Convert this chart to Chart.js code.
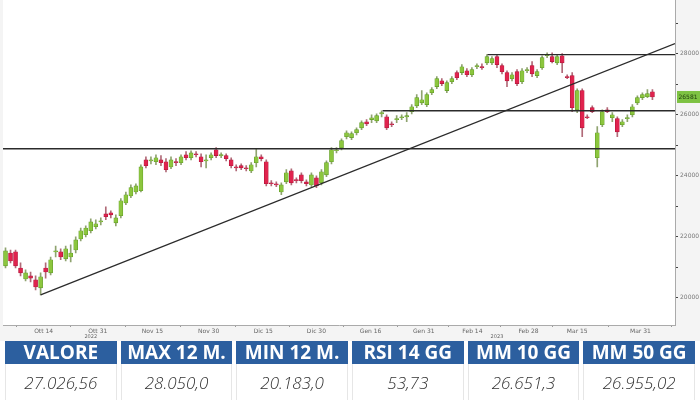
<!DOCTYPE html>
<html>
<head>
<meta charset="utf-8">
<script src="https://cdn.jsdelivr.net/npm/chart.js@4.4.0/dist/chart.umd.min.js"></script>
<style>
  html, body { margin:0; padding:0; background:#fff; }
  body { width:700px; height:400px; overflow:hidden; font-family:"Open Sans", Roboto, sans-serif; }
  #wrap { width:700px; height:341px; overflow:hidden; }
  #myChart { display:block; margin-top:-6px; }
  table { border-collapse:separate; border-spacing:4px 0; margin-left:1px; width:698px; table-layout:fixed; }
  th { background:#2c5f9f; color:#fff; font-weight:700; font-size:19px; height:23px; padding:0; line-height:23px; white-space:nowrap; }
  td { font-style:italic; font-weight:300; color:#333; font-size:17px; height:36px; padding:0; text-align:center;
       border-left:1px solid #e6e6e6; border-right:1px solid #e6e6e6; }
</style>
</head>
<body>
<div id="wrap"><canvas id="myChart" width="700" height="347"></canvas></div>
<table>
  <tr id="head"></tr>
  <tr id="vals"></tr>
</table>
<script>
// candles, one per trading day (index 0 = first candle on the left)
const opens  = [21050,21470,21510,20980,20620,20720,20590,20330,20980,20820,21510,21510,21280,21340,21570,21930,22070,22200,22330,22490,
                22750,22790,22460,22690,23110,23340,23470,23510,24520,24490,24460,24520,24460,24290,24460,24430,24690,24590,24720,24620,
                24490,24590,24850,24660,24660,24520,24290,24330,24260,24160,24430,24620,24460,23770,23740,23470,23800,24160,23870,24030,
                23800,23700,23930,23770,24030,24460,24820,24920,25280,25250,25410,25570,25770,25840,25800,26030,25930,25700,25840,25900,
                25930,26100,26290,26390,26330,26720,26920,27110,26790,27080,27380,27380,27440,27310,27570,27570,27700,27700,27900,27610,
                27380,27180,27410,27080,27440,27610,27280,27540,27930,27900,27700,27930,27250,27280,26160,26790,25930,26230,24590,25670,
                26160,25900,25870,25670,25870,26000,26390,26560,26590,26750];
const closes = [21540,21210,21050,20820,20820,20650,20360,20690,20850,21250,21540,21340,21610,21470,21900,22200,22290,22490,22430,22520,
                22660,22720,22620,23180,23380,23610,23670,24290,24330,24520,24590,24430,24200,24520,24430,24620,24590,24750,24690,24460,
                24520,24690,24660,24690,24560,24330,24260,24260,24230,24360,24620,24560,23740,23740,23700,23700,24100,23770,23840,23840,
                23740,24030,23670,24130,24430,24850,24850,25150,25410,25380,25510,25740,25700,25900,25970,26070,25570,25670,25870,25930,
                25970,26260,26560,26490,26660,26820,27180,27020,27050,27180,27210,27570,27310,27480,27610,27540,27900,27840,27640,27410,
                27110,27310,27020,27440,27480,27340,27410,27870,27970,27740,27900,27700,27210,26230,26790,25570,25900,26100,25410,26100,
                26100,26000,25440,25770,25900,26260,26560,26660,26690,26581];
const highs  = [21640,21570,21570,21150,20920,20850,20720,20820,21150,21340,21700,21610,21700,21740,22000,22290,22360,22590,22560,22620,
                22980,22850,22720,23250,23470,23700,23740,24360,24620,24620,24690,24660,24560,24620,24560,24690,24790,24820,24790,24720,
                24690,24750,24920,24750,24720,24590,24360,24390,24330,24430,24880,24690,24520,23840,23800,23770,24200,24230,23930,24100,
                23870,24100,24000,24200,24490,24920,24920,25210,25470,25440,25570,25800,25840,26000,26030,26130,26000,25770,25970,26000,
                26070,26330,26660,26790,26720,26890,27250,27180,27110,27250,27440,27640,27510,27540,27670,27670,27970,27900,27970,27670,
                27440,27380,27480,27510,27540,27740,27480,27930,28030,28030,27970,28000,27310,27380,26850,26850,26000,26290,25610,26160,
                26230,26070,25930,25840,26000,26330,26620,26720,26820,26820];
const lows   = [20980,21150,20980,20720,20560,20520,20260,20100,20650,20750,21340,21250,21210,21180,21470,21870,22000,22130,22260,22390,
                22560,22620,22360,22620,23050,23280,23410,23470,24260,24390,24360,24330,24130,24230,24330,24360,24520,24520,24620,24290,
                24260,24520,24590,24590,24490,24260,24160,24200,24160,24100,24290,24490,23670,23670,23640,23380,23740,23700,23770,23770,
                23670,23640,23610,23700,23970,24390,24750,24850,25210,25180,25340,25510,25640,25740,25740,25930,25510,25610,25740,25840,
                25770,26030,26230,26330,26260,26660,26850,26950,26720,27020,27150,27310,27250,27250,27510,27480,27640,27640,27540,27340,
                26920,27110,26950,27020,27380,27250,27210,27480,27870,27700,27640,27380,27180,26100,26070,25280,25870,26070,24290,25610,
                26070,25770,25280,25610,25770,25930,26330,26490,26560,26490];

// x axis labels (positions in trading days) and year marks
const tickPos    = [7.6, 18.4, 29.3, 40.5, 51.4, 62, 72.8, 83.4, 93.1, 104.3, 114, 126.6];
const tickLabels = ['Ott 14','Ott 31','Nov 15','Nov 30','Dic 15','Dic 30','Gen 16','Gen 31','Feb 14','Feb 28','Mar 15','Mar 31'];
const yearPos    = [17, 98];
const yearLabels = ['2022', '2023'];
const yTicks     = [20000, 21000, 22000, 23000, 24000, 25000, 26000, 27000, 28000, 29000];

// drawn levels: [start index, end index, start value, end value]
const support    = [-0.5, 133.5, 24885, 24885];
const midLevel   = [75.2, 133.5, 26130, 26130];
const topLevel   = [96.1, 133.5, 27970, 27970];
const trendLine  = [7, 133.5, 20100, 28330];

// table below the chart
const headers = ['VALORE', 'MAX 12 M.', 'MIN 12 M.', 'RSI 14 GG', 'MM 10 GG', 'MM 50 GG'];
const values  = ['27.026,56', '28.050,0', '20.183,0', '53,73', '26.651,3', '26.955,02'];

headers.forEach(h => { $th = document.createElement('th'); $th.textContent = h; document.getElementById('head').appendChild($th); });
values.forEach(v => { $td = document.createElement('td'); $td.textContent = v; document.getElementById('vals').appendChild($td); });

const GREEN = '#8cc63e', GREEN_B = '#5f9a26', RED = '#e0234e', RED_B = '#b0173a';
const up = opens.map((o, i) => closes[i] >= o);

function seg(s) {
  return { type:'line', data:[{x:s[0], y:s[2]}, {x:s[1], y:s[3]}], borderColor:'#2b2b2b', borderWidth:1.3,
           pointRadius:0, order:0 };
}

const bgPlugin = {
  id: 'bg',
  beforeDraw(chart) {
    const c = chart.ctx, a = chart.chartArea;
    c.save();
    c.fillStyle = '#f4f4f4';
    c.fillRect(0, 0, chart.width, chart.height);
    c.fillStyle = '#fff';
    c.fillRect(a.left, 0, a.right - a.left, a.bottom);
    c.restore();
  },
  afterDatasetsDraw(chart) {
    const c = chart.ctx, a = chart.chartArea;
    const xs = chart.scales.x, ys = chart.scales.y;
    c.save();
    // years under the date labels
    c.font = '5px "DejaVu Sans"';
    c.fillStyle = '#666';
    c.textAlign = 'center';
    c.textBaseline = 'middle';
    yearPos.forEach((p, k) => c.fillText(yearLabels[k], xs.getPixelForValue(p), a.bottom + 12));
    // last price tag
    const last = closes[closes.length - 1];
    const y = ys.getPixelForValue(last);
    c.fillStyle = '#7dc242';
    c.fillRect(a.right + 2, y - 6, chart.width - a.right - 2, 12);
    c.fillStyle = '#1d3a0c';
    c.font = '6px "DejaVu Sans"';
    c.fillText(String(last), a.right + 13, y);
    c.restore();
  }
};

const ctx = document.getElementById('myChart');

new Chart(ctx, {
  type: 'bar',
  data: {
    datasets: [
      seg(support), seg(midLevel), seg(topLevel), seg(trendLine),
      {
        data: opens.map((o, i) => ({x:i, y:[o, closes[i]]})),
        backgroundColor: up.map(u => u ? GREEN : RED),
        borderColor: up.map(u => u ? GREEN_B : RED_B),
        borderWidth: 0.6, borderSkipped: false,
        barThickness: 4, minBarLength: 1, grouped: false, order: 1
      },
      {
        data: lows.map((l, i) => ({x:i, y:[l, highs[i]]})),
        backgroundColor: up.map(u => u ? '#8fa36f' : '#b06a78'),
        barThickness: 1, grouped: false, order: 2
      }
    ]
  },
  options: {
    responsive: false,
    animation: false,
    devicePixelRatio: 1,
    layout: { padding: { left: 3, top: 0, right: 0, bottom: 0 } },
    plugins: { legend: { display: false }, tooltip: { enabled: false } },
    scales: {
      x: {
        type: 'linear', min: -0.5, max: 133.5, offset: false,
        afterBuildTicks: s => { s.ticks = tickPos.map(v => ({value: v})); },
        afterFit: s => { s.height = 16; },
        ticks: { autoSkip: false, maxRotation: 0, padding: 1, color: '#666',
                 font: { size: 6, family: '"DejaVu Sans"' },
                 callback: (v, i) => tickLabels[i] },
        grid: { drawOnChartArea: false, tickLength: 2, color: '#999' },
        border: { color: '#aaa' }
      },
      y: {
        position: 'right', min: 19113, max: 29770,
        afterBuildTicks: s => { s.ticks = yTicks.map(v => ({value: v})); },
        afterFit: s => { s.width = 25; },
        ticks: { padding: 2, color: '#777', font: { size: 6, family: '"DejaVu Sans"' },
                 callback: v => (v % 2000 === 0 ? String(v) : '') },
        grid: { drawOnChartArea: false, tickLength: 3, color: '#444' },
        border: { color: '#aaa' }
      }
    }
  },
  plugins: [bgPlugin]
});
</script>
</body>
</html>
